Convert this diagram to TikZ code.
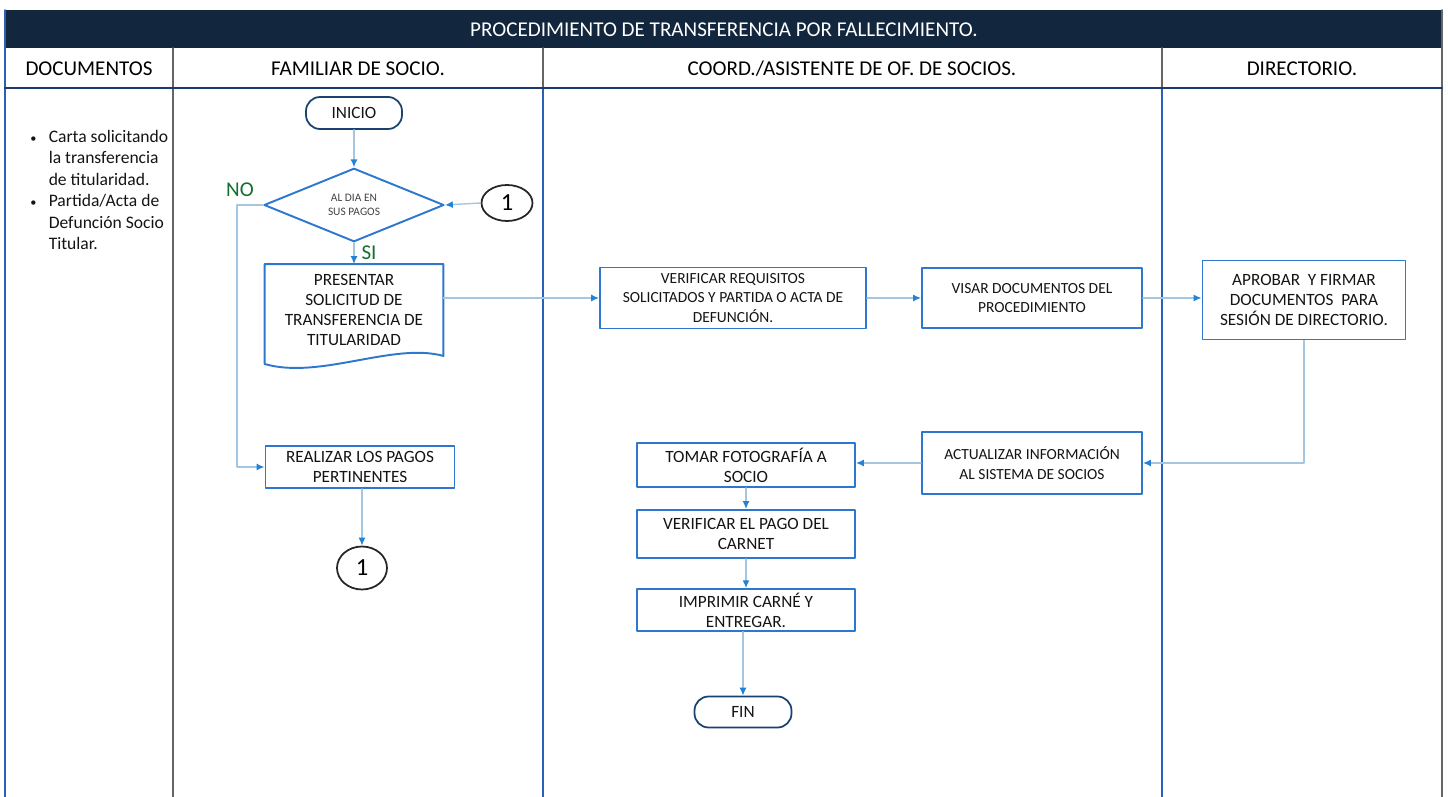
\documentclass[tikz,border=0pt]{standalone}
\usepackage{fontspec}
\setmainfont{Carlito}
\usetikzlibrary{shapes.geometric,arrows.meta,calc}

\definecolor{navybar}{RGB}{18,38,62}
\definecolor{laneblue}{RGB}{45,95,185}
\definecolor{boxblue}{RGB}{45,120,205}
\definecolor{flowline}{RGB}{165,198,222}
\definecolor{tipblue}{RGB}{35,130,215}
\definecolor{labelgreen}{RGB}{20,110,45}
\definecolor{textdark}{RGB}{20,20,20}

\begin{document}
\begin{tikzpicture}[
    x=0.02cm, y=-0.02cm,
    box/.style = {
        rectangle,
        draw=boxblue,
        line width=1.1pt,
        align=center,
        text=textdark,
        font=\fontsize{9.8}{11.5}\selectfont,
        inner sep=2pt
    },
    narrowbox/.style = {box, font=\fontsize{8.8}{11}\selectfont},
    terminal/.style  = {rectangle, rounded corners=8pt, draw=boxblue!55!black, line width=1pt,
                        text=textdark, font=\fontsize{9.8}{11}\selectfont},
    decision/.style  = {diamond, draw=boxblue, line width=1.1pt, inner sep=0pt, align=center,
                        text=textdark!80, font=\fontsize{6.5}{8}\selectfont},
    offpage/.style   = {ellipse, draw=black!85, line width=1pt, inner sep=0pt,
                        font=\fontsize{14}{14}\selectfont},
    flow/.style      = {draw=flowline, line width=0.8pt, -{Latex[length=4.5pt,width=4pt,color=tipblue]}},
    lane/.style      = {draw=laneblue, line width=1pt},
    darklane/.style  = {draw=black!60, line width=1pt},
    lanehead/.style  = {font=\fontsize{12}{14}\selectfont, text=black},
    branch/.style    = {font=\fontsize{12}{14}\selectfont, text=labelgreen},
    line cap=round, line join=round
]

\useasboundingbox (0,0) rectangle (1448,797);

% Title bar and lane headers
\fill[navybar] (5,10) rectangle (1442,48);
\node[font=\fontsize{12}{14}\selectfont, text=white] (title) at (724,30)
    {PROCEDIMIENTO DE TRANSFERENCIA POR FALLECIMIENTO.};

\node[lanehead] (hdocs) at (89,69)   {DOCUMENTOS};
\node[lanehead] (hfam)  at (358,69)  {FAMILIAR DE SOCIO.};
\node[lanehead] (hcoord) at (852,69) {COORD./ASISTENTE\ DE OF. DE SOCIOS.};
\node[lanehead] (hdir)  at (1302,69) {DIRECTORIO.};

% Lane lines
\draw[darklane] (173,48) -- (173,797);
\draw[darklane] (543,48) -- (543,88);
\draw[darklane] (1162,48) -- (1162,88);
\draw[lane] (543,88) -- (543,797);
\draw[lane] (1162,88) -- (1162,797);
\draw[lane] (5,10) -- (5,797);
\draw[darklane] (1442,10) -- (1442,797);
\draw[draw=laneblue!60!black, line width=1.3pt] (5,88) -- (1442,88);

% Documents column
\node[anchor=north west, inner sep=0pt, font=\fontsize{10}{12.2}\selectfont, text=textdark] (docs) at (30,127) {%
    \begin{tabular}{@{}l@{\hskip 7pt}l@{}}
    {\scriptsize\textbullet} & Carta solicitando\\
                & la transferencia\\
                & de titularidad.\\
    {\scriptsize\textbullet} & Partida/Acta de\\
                & Defunción Socio\\
                & Titular.
    \end{tabular}};

% Familiar de socio
\node[terminal, minimum width=1.92cm, minimum height=0.64cm] (inicio) at (354,113) {INICIO};

\node[decision, minimum width=3.6cm, minimum height=1.46cm] (aldia) at (354,205)
    {AL DIA EN\\SUS PAGOS};

\node[offpage, minimum width=1.02cm, minimum height=0.72cm] (conA) at (507,203) {1};

\node[box, draw=none, minimum width=3.54cm, minimum height=1.8cm] (presentar) at (354,310)
    {PRESENTAR\\SOLICITUD DE\\TRANSFERENCIA DE\\TITULARIDAD};
\draw[draw=boxblue, line width=1.1pt]
    (presentar.south west) -- (presentar.north west) -- (presentar.north east) -- (presentar.south east)
    .. controls +(-50,-14) and +(55,16) .. ($(presentar.south west)+(0,8)$) -- cycle;

\node[box, minimum width=3.78cm, minimum height=0.84cm] (realizar) at (360,467)
    {REALIZAR LOS PAGOS\\PERTINENTES};

\node[offpage, minimum width=1.0cm, minimum height=0.86cm] (conB) at (362,568) {1};

\node[branch] (lblno) at (240,190) {NO};
\node[branch] (lblsi) at (369,253) {SI};

% Coordinacion / asistente
\node[narrowbox, minimum width=5.32cm, minimum height=1.22cm] (verificar) at (733,298)
    {VERIFICAR REQUISITOS\\SOLICITADOS Y PARTIDA O ACTA DE\\DEFUNCIÓN.};

\node[narrowbox, minimum width=4.4cm, minimum height=1.2cm] (visar) at (1032,298)
    {VISAR DOCUMENTOS DEL\\PROCEDIMIENTO};

\node[narrowbox, minimum width=4.4cm, minimum height=1.24cm] (actualizar) at (1032,463)
    {ACTUALIZAR INFORMACIÓN\\AL SISTEMA DE SOCIOS};

\node[box, minimum width=4.36cm, minimum height=0.88cm] (tomar) at (746,465)
    {TOMAR FOTOGRAFÍA A\\SOCIO};

\node[box, minimum width=4.36cm, minimum height=0.96cm] (pago) at (746,534)
    {VERIFICAR EL PAGO DEL\\CARNET};

\node[box, minimum width=4.36cm, minimum height=0.82cm] (imprimir) at (746,610)
    {IMPRIMIR CARNÉ Y\\ENTREGAR.};

\node[terminal, minimum width=1.94cm, minimum height=0.62cm] (fin) at (743,712) {FIN};

% Directorio
\node[box, minimum width=4.06cm, minimum height=1.58cm] (aprobar) at (1304,300)
    {APROBAR\ \ Y FIRMAR\\DOCUMENTOS\ \ PARA\\SESIÓN DE DIRECTORIO.};

% Arrows
\draw[flow] (inicio.south) -- (aldia.north);
\draw[flow] (aldia.south) -- (presentar.north);
\draw[flow] (conA.west) -- (aldia.east);
\draw[flow] (aldia.west) -- ++(-26,0) |- (realizar.west);
\draw[flow] (realizar.south -| conB.north) -- (conB.north);

\draw[flow] (presentar.east |- verificar.west) -- (verificar.west);
\draw[flow] (verificar.east) -- (visar.west);
\draw[flow] (visar.east) -- (visar.east -| aprobar.west);
\draw[flow] (aprobar.south) |- (actualizar.east);
\draw[flow] (actualizar.west) -- (actualizar.west -| tomar.east);

\draw[flow] (tomar.south) -- (pago.north);
\draw[flow] (pago.south) -- (imprimir.north);
\draw[flow] (imprimir.south -| fin.north) -- (fin.north);

\end{tikzpicture}
\end{document}
